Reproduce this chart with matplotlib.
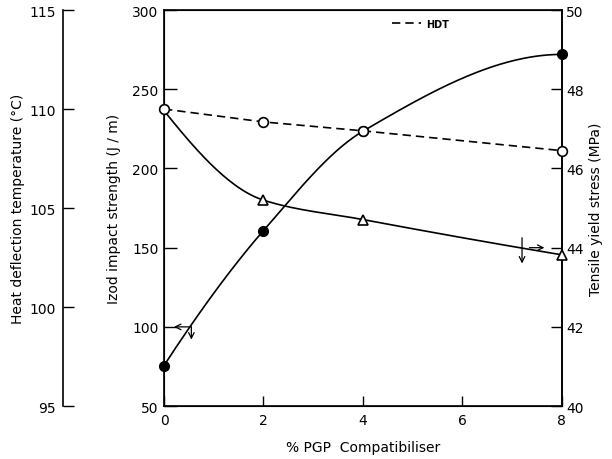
import matplotlib
matplotlib.use('Agg')
import matplotlib.pyplot as plt
import numpy as np

# % PGP compatibiliser
pgp = [0, 2, 4, 8]
# Izod impact strength (J/m), filled circles
izod = [75.6, 160.8, 223.5, 272]
# tensile yield stress (MPa), triangles
tys = [47.46, 45.2, 44.71, 43.82]
# heat deflection temperature (C), open circles, dashed
hdt = [110.0, 109.35, 108.9, 107.9]


def pchip(x, y, xs):
    # monotone cubic curve through the measured points (for drawing only)
    x = np.asarray(x, float)
    y = np.asarray(y, float)
    h = np.diff(x)
    d = np.diff(y) / h
    m = np.zeros_like(y)
    for k in range(1, len(x) - 1):
        if d[k - 1] * d[k] > 0:
            w1 = 2 * h[k] + h[k - 1]
            w2 = h[k] + 2 * h[k - 1]
            m[k] = (w1 + w2) / (w1 / d[k - 1] + w2 / d[k])
    for k, (i, j) in ((0, (0, 1)), (-1, (-1, -2))):
        mk = ((2 * h[i] + h[j]) * d[i] - h[i] * d[j]) / (h[i] + h[j])
        if np.sign(mk) != np.sign(d[i]):
            mk = 0
        elif np.sign(d[i]) != np.sign(d[j]) and abs(mk) > abs(3 * d[i]):
            mk = 3 * d[i]
        m[k] = mk
    out = np.empty_like(xs)
    for n, xv in enumerate(xs):
        i = min(np.searchsorted(x, xv, side='right') - 1, len(x) - 2)
        t = (xv - x[i]) / h[i]
        out[n] = ((2 * t**3 - 3 * t**2 + 1) * y[i] + (t**3 - 2 * t**2 + t) * h[i] * m[i]
                  + (-2 * t**3 + 3 * t**2) * y[i + 1] + (t**3 - t**2) * h[i] * m[i + 1])
    return out


plt.rcParams['font.family'] = 'DejaVu Sans'
fig = plt.figure(figsize=(6.12, 4.6), dpi=100)
ax = fig.add_axes([0.268, 0.115, 0.65, 0.861])
ax_t = ax.twinx()
ax_h = ax.twinx()

xs = np.linspace(0, 8, 200)
ax.plot(xs, pchip(pgp, izod, xs), color='black', lw=1.2)
ax.plot(pgp, izod, 'o', color='black', ms=7, clip_on=False, zorder=5)
ax_t.plot(xs, pchip(pgp, tys, xs), color='black', lw=1.2)
ax_t.plot(pgp[1:], tys[1:], '^', mfc='white', mec='black', mew=1.2, ms=7.5,
          clip_on=False, zorder=5)
ax_h.plot(pgp, hdt, '--', color='black', lw=1.2, dashes=(5, 3), label='HDT')
ax_h.plot(pgp, hdt, 'o', mfc='white', mec='black', mew=1.2, ms=7, clip_on=False)

ax.set_xlim(0, 8)
ax.set_ylim(50, 300)
ax_t.set_ylim(40, 50)
ax_h.set_ylim(95, 115)
ax.set_xticks([0, 2, 4, 6, 8])
ax.set_yticks([50, 100, 150, 200, 250, 300])
ax_t.set_yticks([40, 42, 44, 46, 48, 50])
ax_h.set_yticks([95, 100, 105, 110, 115])

ax.tick_params(axis='both', direction='in', length=9, width=1, labelsize=10, pad=4)
ax.tick_params(axis='x', length=7, pad=5)
ax_t.tick_params(axis='y', direction='in', length=8, width=1, labelsize=10, pad=3)
for sp in ax.spines.values():
    sp.set_linewidth(1.2)
ax_t.spines['right'].set_linewidth(1.2)

# outer HDT axis on the far left
ax_h.yaxis.set_ticks_position('left')
ax_h.yaxis.set_label_position('left')
for side in ['top', 'bottom', 'right']:
    ax_h.spines[side].set_visible(False)
ax_h.spines['left'].set_position(('axes', -0.2538))
ax_h.spines['left'].set_linewidth(1.2)
ax_h.tick_params(axis='y', direction='in', length=8, width=1, labelsize=10, pad=5)

ax.set_xlabel('% PGP  Compatibiliser', fontsize=10, labelpad=9)
ax.set_ylabel('Izod impact strength (J / m)', fontsize=10, labelpad=8)
ax_t.set_ylabel('Tensile yield stress (MPa)', fontsize=10, labelpad=4)
ax_h.set_ylabel('Heat deflection temperature (°C)', fontsize=10, labelpad=3)

ax_h.legend(loc='upper left', bbox_to_anchor=(0.55, 1.0), frameon=False,
            handlelength=3, handletextpad=0.6,
            prop={'weight': 'bold', 'size': 7})

# small axis-pointer arrows
arw = dict(arrowstyle='->', color='black', lw=0.9, shrinkA=0, shrinkB=0)
ax.annotate('', xy=(0.2, 100), xytext=(0.55, 100), arrowprops=arw)
ax.annotate('', xy=(0.55, 92), xytext=(0.55, 100), arrowprops=arw)
ax_t.annotate('', xy=(7.65, 44.0), xytext=(7.35, 44.0), arrowprops=arw)
ax_t.annotate('', xy=(7.2, 43.6), xytext=(7.2, 44.25), arrowprops=arw)

fig.savefig('out.png', dpi=100)
